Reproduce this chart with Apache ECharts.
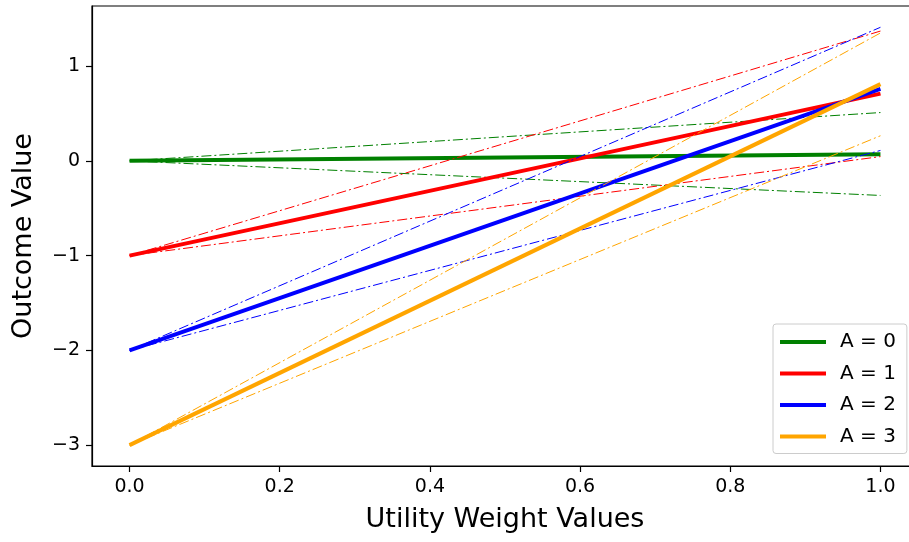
<!DOCTYPE html>
<html>
<head>
<meta charset="utf-8">
<script src="https://cdn.jsdelivr.net/npm/echarts@6/dist/echarts.min.js"></script>
<style>
  html, body { margin: 0; padding: 0; background: #fff; }
  #main { width: 909px; height: 542px; }
</style>
</head>
<body>
<div id="main"></div>
<script>
// data
var xValues = [0, 1];
var groups = ["A = 0", "A = 1", "A = 2", "A = 3"];
var meanStart = [0, -1, -2, -3];
var meanEnd = [0.07, 0.71, 0.76, 0.81];
var upperEnd = [0.51, 1.37, 1.41, 1.35];
var lowerEnd = [-0.365, 0.045, 0.11, 0.265];
var xTicks = [0, 0.2, 0.4, 0.6, 0.8, 1.0];
var yTicks = [-3, -2, -1, 0, 1];

var colors = ["#008000", "#ff0000", "#0000ff", "#ffa500"];
var font = "DejaVu Sans";

function pairs(y0, y1) {
  return [[xValues[0], y0], [xValues[1], y1]];
}

var series = [];
groups.forEach(function (name, i) {
  series.push({
    name: name,
    type: "line",
    symbol: "none",
    color: colors[i],
    lineStyle: { width: 4, color: colors[i] },
    data: pairs(meanStart[i], meanEnd[i]),
  });
  series.push({
    name: name + " upper",
    type: "line",
    symbol: "none",
    lineStyle: { width: 1, color: colors[i], type: [10, 3, 2, 3] },
    data: pairs(meanStart[i], upperEnd[i]),
  });
  series.push({
    name: name + " lower",
    type: "line",
    symbol: "none",
    lineStyle: { width: 1, color: colors[i], type: [10, 3, 2, 3] },
    data: pairs(meanStart[i], lowerEnd[i]),
  });
});

var myChart = echarts.init(document.getElementById("main"));
var option = {
  animation: false,
  backgroundColor: "#fff",
  textStyle: { fontFamily: font },
  grid: {
    left: 92,
    top: 6,
    width: 826,
    height: 460,
    outerBoundsMode: "none",
    containLabel: false,
    show: true,
    borderColor: "#000",
    borderWidth: 1.2,
  },
  legend: {
    data: groups,
    orient: "vertical",
    left: 773,
    top: 324,
    padding: [8, 11, 7, 7],
    itemGap: 11.5,
    itemWidth: 46,
    itemHeight: 4,
    icon: "rect",
    backgroundColor: "rgba(255,255,255,0.8)",
    borderColor: "#cccccc",
    borderWidth: 1,
    borderRadius: 3,
    textStyle: { fontFamily: font, fontSize: 20, color: "#000", padding: [0, 0, 0, 9] },
  },
  xAxis: {
    type: "value",
    min: -0.05,
    max: 1.05,
    name: "Utility Weight Values",
    nameLocation: "middle",
    nameGap: 40,
    nameTextStyle: { fontFamily: font, fontSize: 27, color: "#000" },
    axisLine: { show: true, onZero: false, lineStyle: { color: "#000", width: 1.2 } },
    axisTick: { show: true, length: 6, customValues: xTicks, lineStyle: { color: "#000", width: 1.2 } },
    axisLabel: {
      customValues: xTicks,
      margin: 12,
      fontFamily: font,
      fontSize: 19,
      color: "#000",
      formatter: function (v) { return v.toFixed(1); },
    },
    splitLine: { show: false },
  },
  yAxis: {
    type: "value",
    min: -3.2207,
    max: 1.6347,
    name: "Outcome Value",
    nameLocation: "middle",
    nameGap: 55,
    nameTextStyle: { fontFamily: font, fontSize: 27, color: "#000" },
    axisLine: { show: true, onZero: false, lineStyle: { color: "#000", width: 1.2 } },
    axisTick: { show: true, length: 6, customValues: yTicks, lineStyle: { color: "#000", width: 1.2 } },
    axisLabel: {
      customValues: yTicks,
      margin: 12,
      fontFamily: font,
      fontSize: 19,
      color: "#000",
      formatter: function (v) { return String(v).replace("-", "\u2212"); },
    },
    splitLine: { show: false },
  },
  series: series,
};
myChart.setOption(option);
</script>
</body>
</html>
